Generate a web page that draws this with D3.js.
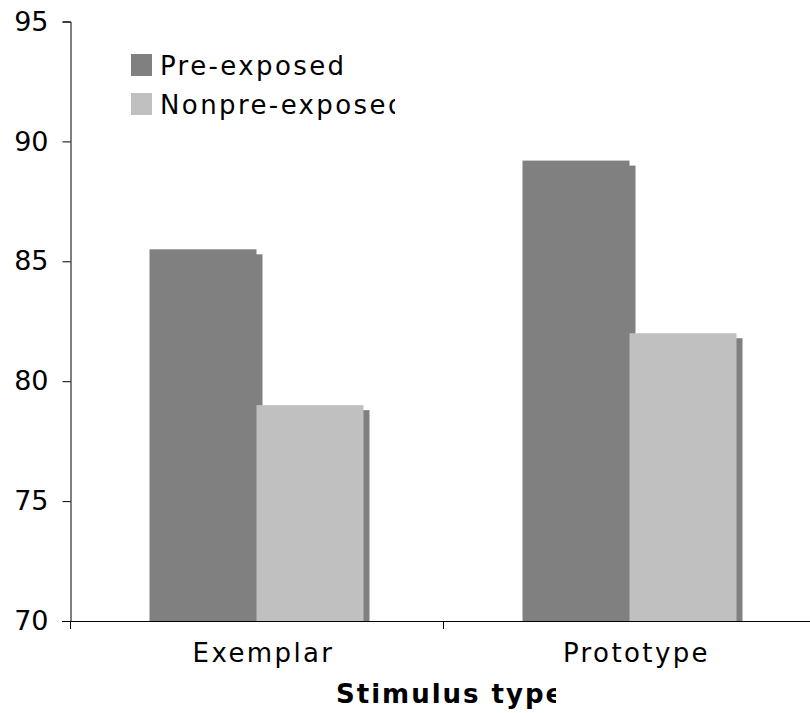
<!DOCTYPE html>
<html>
<head>
<meta charset="utf-8">
<script src="https://cdn.jsdelivr.net/npm/d3@7"></script>
<style>
  body { margin: 0; background: #fff; }
  svg { display: block; }
</style>
</head>
<body>
<script>
// data
const categories = ['Exemplar', 'Prototype']
const seriesNames = ['Pre-exposed', 'Nonpre-exposed']
const preExposed = [85.5, 89.2]
const nonpreExposed = [79.0, 82.0]
const yTicks = [70, 75, 80, 85, 90, 95]
const xTitle = 'Stimulus type'

const width = 810
const height = 713
const colors = ['#808080', '#c0c0c0']
const shadowColor = '#808080'
const font = '"DejaVu Sans", Verdana, sans-serif'

const svg = d3.select('body').append('svg')
  .attr('width', width)
  .attr('height', height)

const defs = svg.append('defs')
defs.append('clipPath').attr('id', 'legend-clip')
  .append('rect').attr('x', 0).attr('y', 0).attr('width', 395).attr('height', 200)
defs.append('clipPath').attr('id', 'title-clip')
  .append('rect').attr('x', 0).attr('y', 640).attr('width', 556).attr('height', 80)

// scales
const x0 = d3.scaleBand().domain(categories).range([70, 816])
const groupWidth = 214
const x1 = d3.scaleBand().domain(seriesNames).range([0, groupWidth])
const y = d3.scaleLinear().domain([70, 95]).range([621, 21.5])

const rows = categories.map((c, i) => ({
  cat: c,
  values: [
    { name: seriesNames[0], value: preExposed[i], color: colors[0] },
    { name: seriesNames[1], value: nonpreExposed[i], color: colors[1] }
  ]
}))

const groups = svg.append('g').selectAll('g')
  .data(rows)
  .enter().append('g')
  .attr('transform', d => 'translate(' + (x0(d.cat) + (x0.bandwidth() - groupWidth) / 2) + ',0)')

// 3d-ish shadow strips behind bars
const sdx = 6, sdy = 5
groups.selectAll('rect.shadow')
  .data(d => d.values)
  .enter().append('rect')
  .attr('class', 'shadow')
  .attr('x', d => x1(d.name) + sdx)
  .attr('y', d => y(d.value) + sdy)
  .attr('width', x1.bandwidth())
  .attr('height', d => y(70) - y(d.value) - sdy)
  .attr('fill', shadowColor)

groups.selectAll('rect.bar')
  .data(d => d.values)
  .enter().append('rect')
  .attr('class', 'bar')
  .attr('x', d => x1(d.name))
  .attr('y', d => y(d.value))
  .attr('width', x1.bandwidth())
  .attr('height', d => y(70) - y(d.value))
  .attr('fill', d => d.color)

// y axis
const yAxis = svg.append('g')
  .attr('transform', 'translate(70.5,0)')
  .call(d3.axisLeft(y).tickValues(yTicks).tickSize(8).tickPadding(14))
yAxis.selectAll('text')
  .style('font-family', font)
  .style('font-size', '27px')
  .attr('fill', '#000')
yAxis.selectAll('line, path').attr('stroke', '#000')

// x axis: line, boundary ticks, centred labels
const xAxis = svg.append('g')
  .attr('transform', 'translate(0,' + y(70) + ')')
  .call(d3.axisBottom(x0).tickSize(0).tickPadding(36))
xAxis.select('.domain').remove()
xAxis.append('line')
  .attr('x1', 62).attr('x2', width).attr('y1', 0.5).attr('y2', 0.5)
  .attr('stroke', '#000')
const bounds = categories.map(c => x0(c)).concat([x0.range()[1]])
xAxis.selectAll('line.bound')
  .data(bounds)
  .enter().append('line')
  .attr('class', 'bound')
  .attr('x1', d => Math.round(d) + 0.5).attr('x2', d => Math.round(d) + 0.5)
  .attr('y1', 0).attr('y2', 8)
  .attr('stroke', '#000')
xAxis.selectAll('.tick text')
  .attr('dx', 7)
  .attr('dy', '0.2em')
  .style('font-family', font)
  .style('font-size', '26px')
  .style('letter-spacing', '2.4px')
  .attr('fill', '#000')

// axis title, clipped like the original
svg.append('g').attr('clip-path', 'url(#title-clip)')
  .append('text')
  .attr('x', 336)
  .attr('y', 703)
  .style('font-family', font)
  .style('font-size', '26px')
  .style('font-weight', 'bold')
  .style('letter-spacing', '2px')
  .text(xTitle)

// legend
const legend = svg.append('g').attr('clip-path', 'url(#legend-clip)')
const items = legend.selectAll('g')
  .data(seriesNames)
  .enter().append('g')
  .attr('transform', (d, i) => 'translate(131,' + (54 + i * 39) + ')')
items.append('rect')
  .attr('width', 21).attr('height', 22)
  .attr('fill', (d, i) => colors[i])
items.append('text')
  .attr('x', 29)
  .attr('y', 21)
  .style('font-family', font)
  .style('font-size', '26px')
  .style('letter-spacing', '2.4px')
  .text(d => d)
</script>
</body>
</html>
